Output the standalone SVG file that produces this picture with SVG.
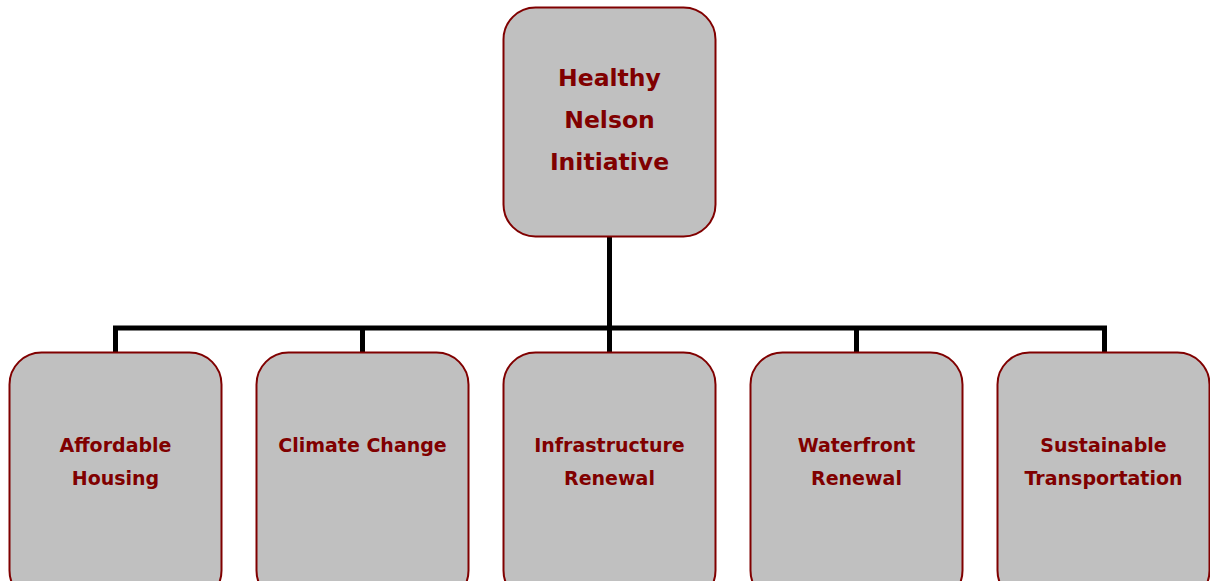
<svg xmlns="http://www.w3.org/2000/svg" width="1210" height="581" viewBox="0 0 1210 581">
<style>
.box{fill:#c0c0c0;stroke:#800000;stroke-width:2}
.t{font-family:"DejaVu Sans",Verdana,sans-serif;font-weight:bold;fill:#800000;text-anchor:middle}
.top{font-size:23.5px}
.sub{font-size:19px}
.con{stroke:#000;stroke-width:5;fill:none}
</style>
<rect width="1210" height="581" fill="#fff"/>
<g id="connectors">
<line class="con" x1="609.5" y1="237" x2="609.5" y2="328"/>
<polyline class="con" points="115.5,353 115.5,328 1104.5,328 1104.5,353"/>
<line class="con" x1="362.5" y1="328" x2="362.5" y2="353"/>
<line class="con" x1="609.5" y1="328" x2="609.5" y2="353"/>
<line class="con" x1="856.5" y1="328" x2="856.5" y2="353"/>
</g>
<g id="healthy-nelson">
<rect class="box" x="503.5" y="7.5" width="212" height="229" rx="32"/>
<text class="t top" x="609.5" y="86">Healthy</text>
<text class="t top" x="609.5" y="128">Nelson</text>
<text class="t top" x="609.5" y="170">Initiative</text>
</g>
<g id="affordable-housing">
<rect class="box" x="9.5" y="352.5" width="212" height="250" rx="32"/>
<text class="t sub" x="115.5" y="452">Affordable</text>
<text class="t sub" x="115.5" y="485">Housing</text>
</g>
<g id="climate-change">
<rect class="box" x="256.5" y="352.5" width="212" height="250" rx="32"/>
<text class="t sub" x="362.5" y="452">Climate Change</text>
</g>
<g id="infrastructure-renewal">
<rect class="box" x="503.5" y="352.5" width="212" height="250" rx="32"/>
<text class="t sub" x="609.5" y="452">Infrastructure</text>
<text class="t sub" x="609.5" y="485">Renewal</text>
</g>
<g id="waterfront-renewal">
<rect class="box" x="750.5" y="352.5" width="212" height="250" rx="32"/>
<text class="t sub" x="856.5" y="452">Waterfront</text>
<text class="t sub" x="856.5" y="485">Renewal</text>
</g>
<g id="sustainable-transportation">
<rect class="box" x="997.5" y="352.5" width="212" height="250" rx="32"/>
<text class="t sub" x="1103.5" y="452">Sustainable</text>
<text class="t sub" x="1103.5" y="485">Transportation</text>
</g>
</svg>
